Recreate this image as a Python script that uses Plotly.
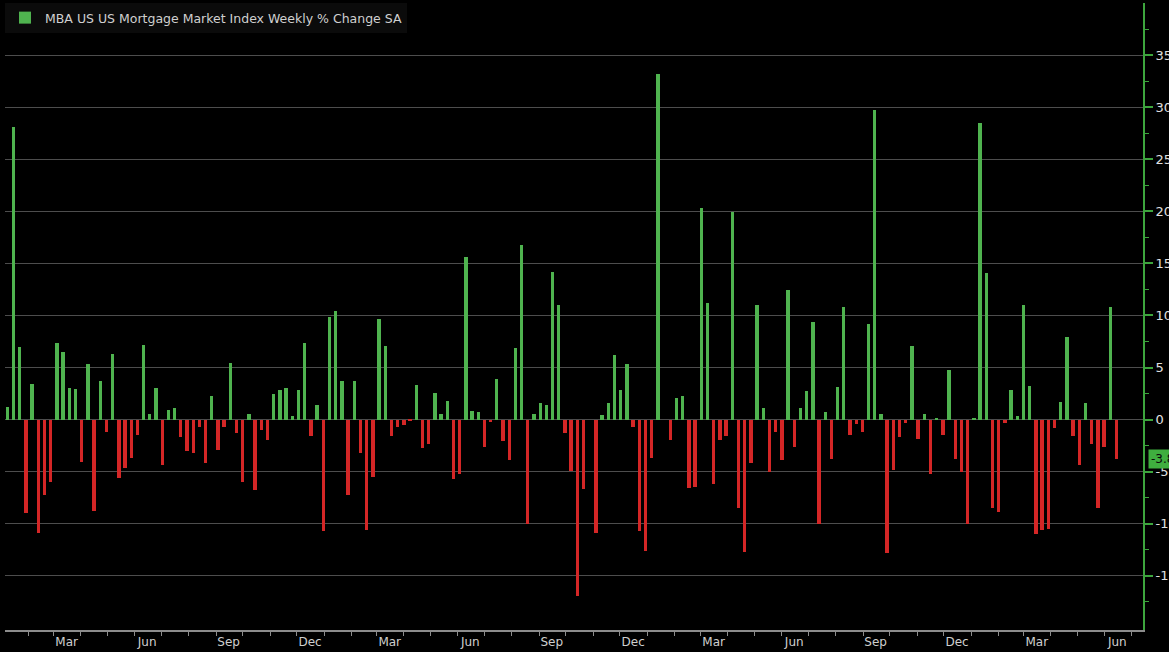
import pandas as pd
import plotly.graph_objects as go

# ---- data ----
series_name = "MBA US US Mortgage Market Index Weekly % Change SA"
first_week = "2014-01-08"   # weekly (Wednesday) observations
weekly_change = [
    1.2, 28.1, 7.0, -9.0, 3.4, -10.9, -7.2, -6.0, 7.4, 6.5,
    3.0, 2.9, -4.1, 5.3, -8.8, 3.7, -1.2, 6.3, -5.6, -4.6,
    -3.7, -1.5, 7.2, 0.5, 3.0, -4.4, 0.9, 1.1, -1.7, -3.0,
    -3.2, -0.7, -4.2, 2.3, -2.9, -0.7, 5.4, -1.3, -6.0, 0.5,
    -6.8, -1.0, -2.0, 2.5, 2.8, 3.0, 0.3, 2.8, 7.4, -1.6,
    1.4, -10.7, 9.9, 10.4, 3.7, -7.2, 3.7, -3.2, -10.6, -5.5,
    9.7, 7.1, -1.6, -0.7, -0.5, -0.1, 3.3, -2.7, -2.3, 2.6,
    0.5, 1.8, -5.7, -5.2, 15.6, 0.8, 0.7, -2.6, -0.2, 3.9,
    -2.1, -3.9, 6.9, 16.8, -10.0, 0.5, 1.6, 1.4, 14.2, 11.0,
    -1.3, -4.9, -16.9, -6.7, 0.0, -10.9, 0.4, 1.6, 6.2, 2.8,
    5.3, -0.7, -10.7, -12.6, -3.7, 33.2, 0.0, -2.0, 2.1, 2.3,
    -6.6, -6.5, 20.3, 11.2, -6.2, -2.0, -1.6, 19.9, -8.5, -12.7,
    -4.2, 11.0, 1.1, -5.0, -1.2, -3.9, 12.4, -2.6, 1.1, 2.7,
    9.4, -10.0, 0.7, -3.8, 3.1, 10.8, -1.5, -0.4, -1.2, 9.2,
    29.7, 0.5, -12.8, -4.8, -1.7, -0.3, 7.1, -1.9, 0.5, -5.2,
    0.1, -1.5, 4.8, -3.8, -5.0, -10.0, 0.2, 28.5, 14.1, -8.5,
    -8.9, -0.3, 2.8, 0.3, 11.0, 3.2, -11.0, -10.6, -10.5, -0.8,
    1.7, 7.9, -1.6, -4.4, 1.6, -2.3, -8.5, -2.6, 10.8, -3.8,
]
month_labels = ["Mar", "Jun", "Sep", "Dec"] * 3 + ["Mar", "Jun"]
month_label_dates = [
    "2014-03-16", "2014-06-15", "2014-09-15", "2014-12-16",
    "2015-03-16", "2015-06-15", "2015-09-15", "2015-12-16",
    "2016-03-16", "2016-06-15", "2016-09-15", "2016-12-16",
    "2017-03-16", "2017-06-15",
]
y_ticks = [-15, -10, -5, 0, 5, 10, 15, 20, 25, 30, 35]
last_label = "-3.8"

# ---- build ----
dates = pd.date_range(first_week, periods=len(weekly_change), freq="W-WED")
GREEN = "#4fb34f"
RED = "#d42626"
colors = [GREEN if v >= 0 else RED for v in weekly_change]
bar_w = 3.8 * 24 * 3600 * 1000

fig = go.Figure()
fig.add_trace(go.Bar(
    x=dates, y=weekly_change, name=series_name,
    marker=dict(color=colors, line=dict(width=0)),
    width=[bar_w] * len(weekly_change),
    showlegend=True,
))

month_starts = pd.date_range("2014-01-01", "2017-07-01", freq="MS")
minor_y = [v + 2.5 for v in [-20] + y_ticks]

fig.update_layout(
    width=1169, height=652,
    paper_bgcolor="black", plot_bgcolor="black",
    margin=dict(l=5, r=26, t=3, b=20),
    font=dict(family="DejaVu Sans", color="#d8d8d8"),
    legend=dict(
        x=0.0, y=1.0, xanchor="left", yanchor="top",
        bgcolor="#0b0b0b", font=dict(size=12.5, color="#d0d0d0"),
        itemwidth=30, tracegroupgap=0,
    ),
    xaxis=dict(
        type="date",
        range=["2014-01-05 10:00", "2017-07-14"],
        showgrid=False, zeroline=False,
        tickmode="array", tickvals=month_label_dates, ticktext=month_labels,
        ticks="", tickfont=dict(size=12, color="#cfcfcf"),
        showline=True, linecolor="#8c8c8c", linewidth=2,
        minor=dict(tickmode="array", tickvals=list(month_starts),
                   ticks="outside", ticklen=4, tickcolor="#8c8c8c",
                   tickwidth=1, showgrid=False),
        fixedrange=True,
    ),
    yaxis=dict(
        side="right", range=[-20.2, 40.0],
        tickmode="array", tickvals=y_ticks,
        ticktext=[str(v) for v in y_ticks],
        showgrid=True, gridcolor="#4d4d4d", gridwidth=1,
        zeroline=False,
        showline=True, linecolor="#3da53d", linewidth=2,
        ticks="outside", ticklen=8, tickwidth=2, tickcolor="#3da53d",
        tickfont=dict(size=13, color="#e0e0e0"),
        minor=dict(tickmode="array", tickvals=minor_y, ticks="outside",
                   ticklen=4, tickcolor="#3da53d", tickwidth=1, showgrid=False),
        automargin=False,
    ),
    bargap=0,
)

fig.add_annotation(
    x=1.0, xref="paper", xshift=5, y=weekly_change[-1], yref="y",
    xanchor="left", yanchor="middle", showarrow=False,
    text=last_label, bgcolor="#3fae3f",
    font=dict(size=12, color="#0a0a0a", family="DejaVu Sans"),
    borderpad=2,
)

fig.write_html(
    "out.html",
    config={"displayModeBar": False},
    post_script="document.body.style.margin='0';document.body.style.overflow='hidden';",
)
